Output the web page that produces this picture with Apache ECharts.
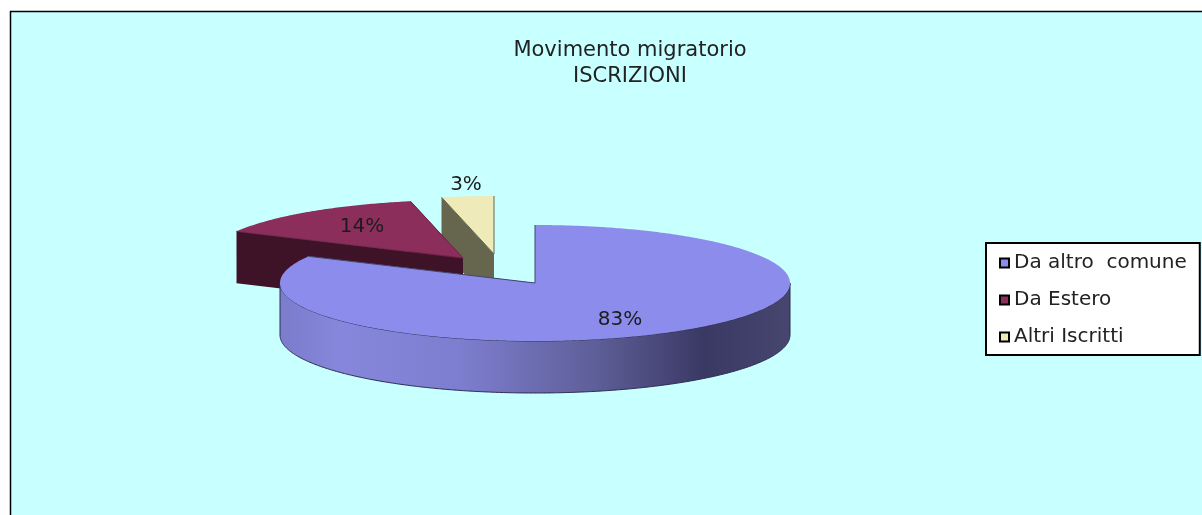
<!DOCTYPE html>
<html>
<head>
<meta charset="utf-8">
<title>Movimento migratorio</title>
<script src="https://cdn.jsdelivr.net/npm/echarts@6/dist/echarts.min.js"></script>
<style>
html, body { margin: 0; padding: 0; background: #fff; }
#main { width: 1202px; height: 515px; }
</style>
</head>
<body>
<div id="main"></div>
<script>
var categories = ['Da altro  comune', 'Da Estero', 'Altri Iscritti'];
// slice sizes as measured on the picture, the labels show them rounded
var values = [82.6, 14.1, 3.3];
var percentLabels = ['83%', '14%', '3%'];

var topColors = ['#8c8cec', '#8b2e5c', '#eeebb9'];
var cutColors = ['#45456f', '#3e1328', '#66664f'];
var edgeColors = ['#45456f', '#6e2449', '#66664f'];

// pie geometry, the ellipse stands for the tilted disc
var cx = 535, cy = 283, rx = 255, ry = 58, depth = 52;
// how far each slice is pulled out of the pie
var shift = [[0, 0], [-72, -25], [-41, -29]];
var labelPos = [[620, 320], [362, 227], [466, 185]];
var textFont = 'DejaVu Sans';

var total = values.reduce(function (a, b) { return a + b; }, 0);

var frontGradient = new echarts.graphic.LinearGradient(0, 0, 1, 0, [
    { offset: 0, color: '#7c7ccc' },
    { offset: 0.12, color: '#8686dc' },
    { offset: 0.35, color: '#7e7ed0' },
    { offset: 0.62, color: '#5e5e98' },
    { offset: 0.83, color: '#3a3964' },
    { offset: 1, color: '#46466f' }
]);

// angle is clockwise from 12 o'clock, in radians
function rim(ox, oy, a, down) {
    return [ox + rx * Math.sin(a), oy - ry * Math.cos(a) + (down || 0)];
}

function arcPoints(ox, oy, from, to, down) {
    var pts = [];
    var n = Math.max(2, Math.ceil((to - from) / 0.01));
    for (var i = 0; i <= n; i++) {
        pts.push(rim(ox, oy, from + (to - from) * i / n, down));
    }
    return pts;
}

function cutFace(ox, oy, a, color) {
    var p = rim(ox, oy, a);
    return {
        type: 'polygon',
        shape: { points: [[ox, oy], p, [p[0], p[1] + depth], [ox, oy + depth]] },
        style: { fill: color }
    };
}

function renderSlice(index) {
    return function (params, api) {
        var before = 0;
        for (var i = 0; i < index; i++) {
            before += values[i];
        }
        var start = before / total * Math.PI * 2;
        var end = start + api.value(0) / total * Math.PI * 2;
        var ox = cx + shift[index][0];
        var oy = cy + shift[index][1];
        var children = [];

        children.push(cutFace(ox, oy, end, cutColors[index]));
        children.push(cutFace(ox, oy, start, cutColors[index]));

        // outer wall, only the part turned to the viewer
        var wallFrom = Math.max(start, Math.PI / 2);
        var wallTo = Math.min(end, Math.PI * 1.5);
        if (wallTo > wallFrom) {
            children.push({
                type: 'polygon',
                shape: {
                    points: arcPoints(ox, oy, wallFrom, wallTo, 0)
                        .concat(arcPoints(ox, oy, wallFrom, wallTo, depth).reverse())
                },
                style: { fill: frontGradient, stroke: '#2c2c50', lineWidth: 1 }
            });
        }

        children.push({
            type: 'polygon',
            shape: { points: [[ox, oy]].concat(arcPoints(ox, oy, start, end, 0)) },
            style: { fill: topColors[index] }
        });

        // only the straight cut edges get a line, the back rim has none
        children.push({
            type: 'polyline',
            shape: { points: [rim(ox, oy, start), [ox, oy], rim(ox, oy, end)] },
            style: { fill: 'none', stroke: edgeColors[index], lineWidth: 1 }
        });

        children.push({
            type: 'text',
            style: {
                x: labelPos[index][0],
                y: labelPos[index][1],
                text: percentLabels[index],
                fill: '#1c1c1c',
                font: '20px "' + textFont + '"',
                align: 'center',
                verticalAlign: 'middle'
            }
        });

        return { type: 'group', children: children };
    };
}

var myChart = echarts.init(document.getElementById('main'), null, { renderer: 'canvas' });

myChart.setOption({
    backgroundColor: '#ffffff',
    animation: false,
    title: {
        text: 'Movimento migratorio\nISCRIZIONI',
        left: 625,
        top: 33,
        textAlign: 'center',
        textStyle: {
            fontFamily: textFont,
            fontSize: 21,
            fontWeight: 'normal',
            color: '#222222',
            lineHeight: 26
        }
    },
    legend: {
        orient: 'vertical',
        left: 986,
        top: 243,
        data: categories,
        icon: 'rect',
        itemWidth: 9,
        itemHeight: 9,
        itemGap: 17,
        padding: [10, 13, 8, 13],
        backgroundColor: '#ffffff',
        borderColor: '#000000',
        borderWidth: 2,
        itemStyle: { borderColor: '#000000', borderWidth: 2 },
        textStyle: {
            fontFamily: textFont,
            fontSize: 20,
            color: '#222222'
        }
    },
    graphic: [{
        // chart area frame, open at the right and at the bottom like the original
        type: 'rect',
        z: -10,
        shape: { x: 10.5, y: 11.5, width: 1300, height: 600 },
        style: { fill: '#c8ffff', stroke: '#000000', lineWidth: 1.5 }
    }],
    // drawn back to front, the legend keeps the categories order
    series: [2, 1, 0].map(function (i) {
        return {
            type: 'custom',
            name: categories[i],
            coordinateSystem: 'none',
            silent: true,
            itemStyle: { color: topColors[i] },
            renderItem: renderSlice(i),
            data: [{ name: categories[i], value: values[i] }]
        };
    })
});
</script>
</body>
</html>
